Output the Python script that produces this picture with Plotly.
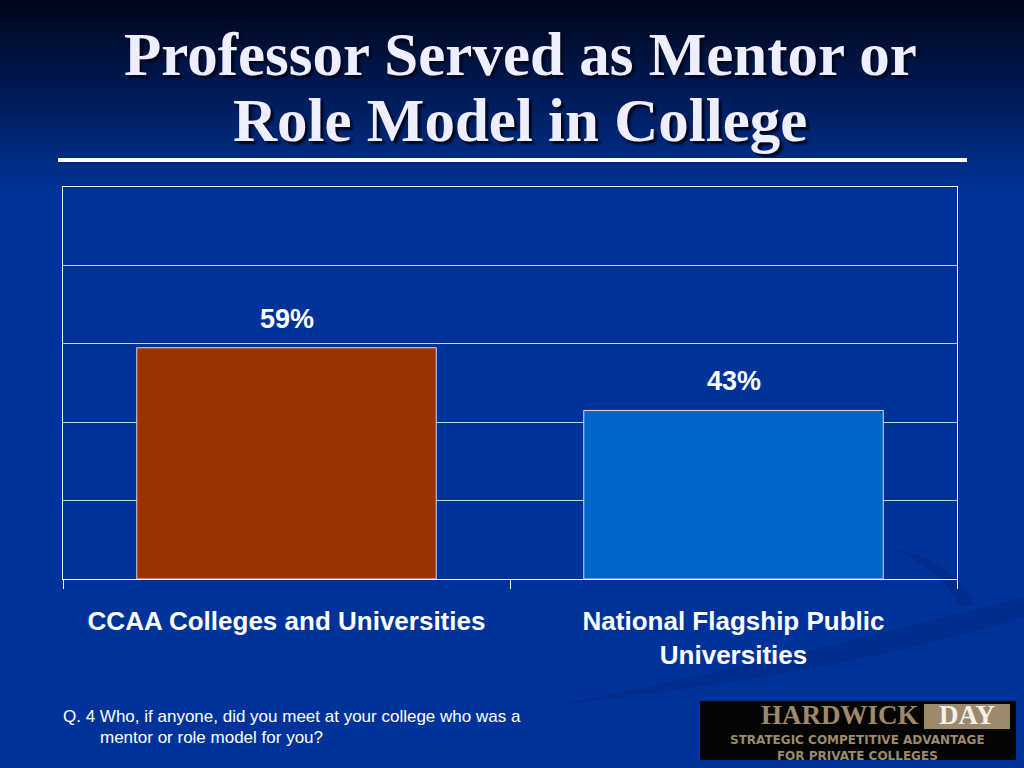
import plotly.graph_objects as go

categories = ["CCAA Colleges and Universities", "National Flagship Public<br>Universities"]
values = [59, 43]
value_labels = ["59%", "43%"]
bar_colors = ["#993300", "#0066CC"]
y_ticks = [0, 20, 40, 60, 80, 100]

W, H = 1024, 768
ml, mr, mt, mb = 63, 67, 187, 189


def px(x):
    return (x - ml) / (W - ml - mr)


def py(y):
    return (H - mb - y) / (H - mt - mb)


fig = go.Figure()
fig.add_trace(go.Bar(
    x=categories, y=values, width=0.67,
    marker=dict(color=bar_colors, line=dict(color="#d8d8e8", width=1)),
    hoverinfo="skip", showlegend=False,
))

shapes = []
# rest of background
shapes.append(dict(type="rect", xref="paper", yref="paper", layer="below",
                   x0=px(-20), x1=px(1050), y0=py(800), y1=py(190),
                   line=dict(width=0), fillcolor="rgb(0,51,153)"))
# background gradient (top dark -> blue)
top = (0, 6, 26)
bot = (0, 51, 153)
n = 40
grad_h = 195
for i in range(n):
    t = i / (n - 1)
    c = tuple(int(round(top[k] + (bot[k] - top[k]) * t)) for k in range(3))
    y0 = i * grad_h / n
    y1 = (i + 1) * grad_h / n + 1
    shapes.append(dict(type="rect", xref="paper", yref="paper", layer="below",
                       x0=px(-20), x1=px(1050), y0=py(y1), y1=py(y0 if i else -20),
                       line=dict(width=0), fillcolor="rgb(%d,%d,%d)" % c))

# subtle swooshes at lower right
shapes.append(dict(type="path", xref="paper", yref="paper", layer="below",
                   path="M %f,%f Q %f,%f %f,%f L %f,%f Q %f,%f %f,%f Z" % (
                       px(560), py(705), px(850), py(645), px(1030), py(595),
                       px(1030), py(615), px(850), py(672), px(560), py(705)),
                   line=dict(width=0), fillcolor="rgba(0,30,110,0.3)"))
shapes.append(dict(type="path", xref="paper", yref="paper", layer="below",
                   path="M %f,%f Q %f,%f %f,%f L %f,%f Q %f,%f %f,%f Z" % (
                       px(890), py(548), px(955), py(560), px(975), py(605),
                       px(958), py(605), px(945), py(572), px(890), py(548)),
                   line=dict(width=0), fillcolor="rgba(0,30,110,0.3)"))
# title underline
shapes.append(dict(type="line", xref="paper", yref="paper",
                   x0=px(58), x1=px(967), y0=py(160), y1=py(160),
                   line=dict(color="#ffffff", width=4)))
# logo box
shapes.append(dict(type="rect", xref="paper", yref="paper",
                   x0=px(700), x1=px(1016), y0=py(760), y1=py(701),
                   line=dict(width=0), fillcolor="#050505"))
shapes.append(dict(type="rect", xref="paper", yref="paper",
                   x0=px(924), x1=px(1010), y0=py(729), y1=py(704),
                   line=dict(width=0), fillcolor="#9c8a6c"))
fig.update_layout(shapes=shapes)

annotations = []
title_lines = [("Professor Served as Mentor or", 55), ("Role Model in College", 120)]
for txt, yc in title_lines:
    annotations.append(dict(text="<b>%s</b>" % txt, xref="paper", yref="paper", x=px(520), y=py(yc),
                            xanchor="center", yanchor="middle", showarrow=False,
                            font=dict(family="Liberation Serif", size=61, color="#eeeeff",
                                      shadow="3px 3px 2px #000820")))
for cat, v, lab in zip(categories, values, value_labels):
    annotations.append(dict(text="<b>%s</b>" % lab, x=cat, y=v, xref="x", yref="y",
                            yanchor="bottom", yshift=12, showarrow=False,
                            font=dict(family="Liberation Sans", size=27, color="#ffffff")))
annotations.append(dict(text="Q. 4 Who, if anyone, did you meet at your college who was a",
                        xref="paper", yref="paper", x=px(61), y=py(716), xanchor="left",
                        yanchor="middle", showarrow=False,
                        font=dict(family="Liberation Sans", size=17, color="#ffffff")))
annotations.append(dict(text="mentor or role model for you?",
                        xref="paper", yref="paper", x=px(98), y=py(737), xanchor="left",
                        yanchor="middle", showarrow=False,
                        font=dict(family="Liberation Sans", size=17, color="#ffffff")))
# logo texts
annotations.append(dict(text="<b>HARDWICK</b>", xref="paper", yref="paper", x=px(921), y=py(715),
                        xanchor="right", yanchor="middle", showarrow=False,
                        font=dict(family="Liberation Serif", size=27, color="#9c8a6c")))
annotations.append(dict(text="<b>DAY</b>", xref="paper", yref="paper", x=px(967), y=py(715),
                        xanchor="center", yanchor="middle", showarrow=False,
                        font=dict(family="Liberation Serif", size=27, color="#f4f0e8")))
annotations.append(dict(text="<b>STRATEGIC COMPETITIVE ADVANTAGE</b><br><b>FOR PRIVATE COLLEGES</b>",
                        xref="paper", yref="paper",
                        x=px(857), y=py(731), xanchor="center", yanchor="top", showarrow=False,
                        font=dict(family="DejaVu Sans", size=12, color="#9c8a6c")))

fig.update_layout(
    width=W, height=H,
    margin=dict(l=ml, r=mr, t=mt, b=mb, pad=0),
    paper_bgcolor="#003399",
    plot_bgcolor="#003399",
    annotations=annotations,
    xaxis=dict(showline=True, mirror=True, linecolor="#ffffff", linewidth=1,
               ticks="outside", tickson="boundaries", ticklen=9, tickcolor="#ffffff",
               tickfont=dict(family="Liberation Sans", size=26, color="#ffffff", weight="bold"),
               ticklabelstandoff=19, showgrid=False, fixedrange=True),
    yaxis=dict(range=[0, 100], tickvals=y_ticks, showticklabels=False,
               showgrid=True, gridcolor="#c8d0f0", gridwidth=1, zeroline=False,
               showline=True, mirror=True, linecolor="#ffffff", linewidth=1,
               fixedrange=True),
)

fig.write_html("out.html", config={"displayModeBar": False},
               post_script="document.body.style.margin='0';document.body.style.overflow='hidden';")
